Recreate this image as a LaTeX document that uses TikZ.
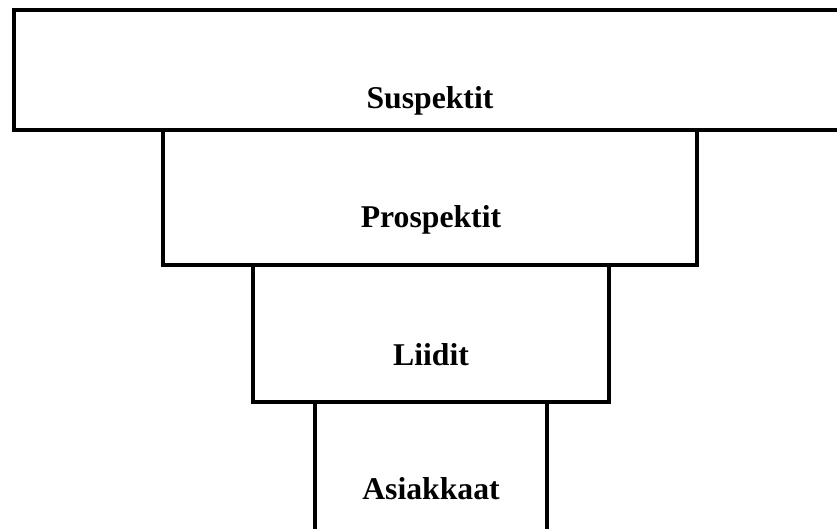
\documentclass[tikz,border=0pt]{standalone}
\usepackage{fontspec}
\setmainfont{Liberation Serif}
\usepackage{tikz}

\begin{document}
\begin{tikzpicture}[x=1pt,y=-1pt,
    tier/.style={rectangle,draw,line width=4pt,inner sep=0pt},
    tiername/.style={font=\bfseries\fontsize{31.7}{38}\selectfont,anchor=base,inner sep=0pt}]

\useasboundingbox (0,0) rectangle (837,528);
\clip (0,0) rectangle (837,528);

% the four tiers, widest on top
\node[tier,minimum width=846.5pt,minimum height=120pt] (suspektit) at (436.75,69.5) {};
\node[tier,minimum width=534pt,minimum height=135.5pt] (prospektit) at (430,197.25) {};
\node[tier,minimum width=356pt,minimum height=137pt] (liidit) at (431,333.5) {};
\node[tier,minimum width=232pt,minimum height=158pt] (asiakkaat) at (431,481) {};

% names
\node[tiername] (suspektitName) at (430,108) {Suspektit};
\node[tiername] (prospektitName) at (431,227) {Prospektit};
\node[tiername] (liiditName) at (431,365) {Liidit};
\node[tiername] (asiakkaatName) at (431,499) {Asiakkaat};

\end{tikzpicture}
\end{document}
